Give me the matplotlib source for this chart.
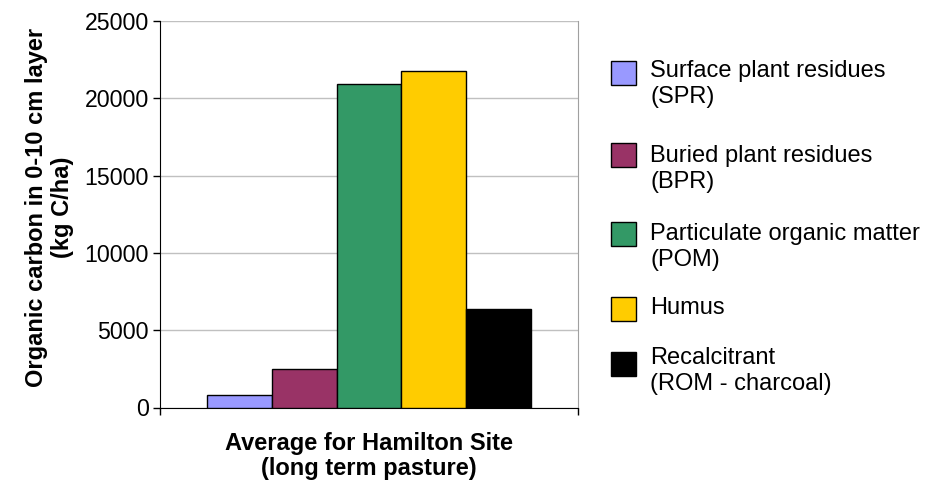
import matplotlib.pyplot as plt
from matplotlib.patches import Rectangle

# data
categories = ['Surface plant residues\n(SPR)', 'Buried plant residues\n(BPR)',
              'Particulate organic matter\n(POM)', 'Humus',
              'Recalcitrant\n(ROM - charcoal)']
values = [800, 2500, 20900, 21750, 6400]
colors = ['#9999FF', '#993366', '#339966', '#FFCC00', '#000000']
yticks = [0, 5000, 10000, 15000, 20000, 25000]

W, H = 928, 491
plt.rcParams['font.family'] = ['Liberation Sans', 'DejaVu Sans']

fig = plt.figure(figsize=(W / 100, H / 100), dpi=100)
ax = fig.add_axes([160 / W, 1 - 407.5 / H, 418 / W, 386.5 / H])

# bars grouped around the single category
n = len(values)
group = 0.773
w = group / n
for i, (v, c) in enumerate(zip(values, colors)):
    x = -group / 2 + w * (i + 0.5)
    ax.bar(x, v, width=w, color=c, edgecolor='black', linewidth=1, zorder=3)

ax.set_xlim(-0.5, 0.5)
ax.set_ylim(0, 25000)
ax.set_yticks(yticks)
ax.set_yticklabels([str(t) for t in yticks], fontsize=16.7)
ax.set_xticks([-0.5, 0.5])
ax.set_xticklabels(['', ''])
ax.tick_params(axis='both', direction='out', length=5, width=1, color='black')
ax.tick_params(axis='y', pad=3)
ax.yaxis.grid(True, color='#c0c0c0', linewidth=1, zorder=0)
ax.set_axisbelow(True)
ax.spines['top'].set_visible(False)
ax.spines['right'].set_color('#a0a0a0')

ax.set_ylabel('Organic carbon in 0-10 cm layer\n(kg C/ha)', fontsize=17,
              fontweight='bold')
ax.yaxis.set_label_coords(-0.205, 0.517)
ax.set_xlabel('Average for Hamilton Site\n(long term pasture)', fontsize=17,
              fontweight='bold', va='top', linespacing=1.1)
ax.xaxis.set_label_coords(0.5, -0.064)

# legend (drawn by hand so the box sits next to the first line of each label)
box_tops = [61, 143, 222, 297, 352]
text_tops = [60, 145, 223, 297, 347]
for lab, c, bt, tt in zip(categories, colors, box_tops, text_tops):
    fig.add_artist(Rectangle((611.5 / W, 1 - (bt + 24) / H), 24.5 / W, 24 / H,
                             facecolor=c, edgecolor='black', linewidth=1,
                             transform=fig.transFigure))
    fig.text(650 / W, 1 - tt / H, lab, fontsize=17, ha='left',
             va='top', linespacing=1.25)

fig.savefig('out.png', dpi=100)
